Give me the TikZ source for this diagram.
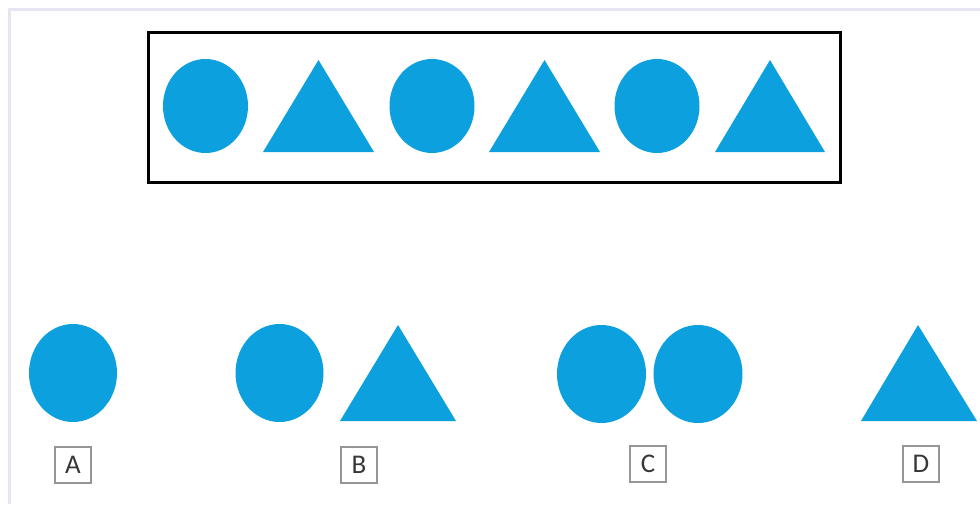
\documentclass[tikz,border=0pt]{standalone}
\usepackage{fontspec}
\setmainfont{Carlito}
\definecolor{shapeblue}{RGB}{12,160,222}
\definecolor{framegray}{RGB}{230,230,242}
\definecolor{labelgray}{RGB}{150,150,150}
\definecolor{textgray}{RGB}{55,55,55}
\begin{document}
\begin{tikzpicture}[x=1pt,y=-1pt,
  blob/.style={fill=shapeblue},
  optlabel/.style={draw=labelgray,line width=1.2pt,minimum width=36pt,minimum height=36pt,inner sep=0pt,text=textgray,font=\fontsize{27}{27}\selectfont}]
\useasboundingbox (0,0) rectangle (980,504);
\fill[white] (0,0) rectangle (980,504);
% outer light frame
\draw[framegray,line width=3pt] (9,504) -- (9,9) -- (980,9);
% black box
\draw[black,line width=3pt] (148,32) rectangle (840,182);
% top sequence
\fill[blob] (205.5,106) ellipse [x radius=42.5,y radius=47];
\fill[blob] (263,152) -- (318.5,60) -- (374,152) -- cycle;
\fill[blob] (432,106) ellipse [x radius=42.5,y radius=47];
\fill[blob] (489,152) -- (544.5,60) -- (600,152) -- cycle;
\fill[blob] (657,106) ellipse [x radius=42.5,y radius=47];
\fill[blob] (715,152) -- (770,60) -- (825,152) -- cycle;
% options
\fill[blob] (73,373) ellipse [x radius=44,y radius=49];
\fill[blob] (279.5,373) ellipse [x radius=44,y radius=49];
\fill[blob] (340,421) -- (398,325) -- (456,421) -- cycle;
\fill[blob] (601.5,374) ellipse [x radius=44.5,y radius=49];
\fill[blob] (698,374) ellipse [x radius=44.5,y radius=49];
\fill[blob] (861,421) -- (918,325) -- (977,421) -- cycle;
% labels
\node[optlabel] (la) at (73,465) {A};
\node[optlabel] (lb) at (359,465) {B};
\node[optlabel] (lc) at (648,464) {C};
\node[optlabel] (ld) at (921,464) {D};
\end{tikzpicture}
\end{document}
